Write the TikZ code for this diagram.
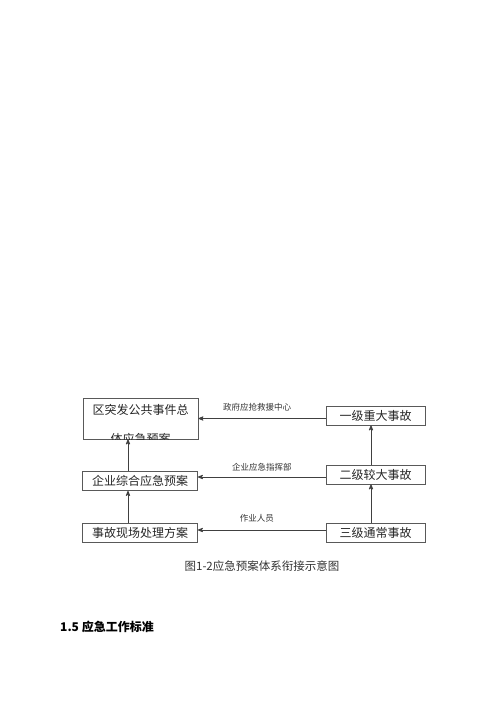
\documentclass[tikz,border=0pt]{standalone}
\usepackage{fontspec}
\setmainfont{Noto Sans CJK SC}
\usetikzlibrary{positioning, arrows}
\tikzset{
	>=stealth',
	box/.style={draw=black!65, line width=0.8pt, minimum width=115pt, minimum height=19pt,
		inner sep=0pt, text=black!85, font=\fontsize{12}{14}\selectfont},
	rbox/.style={box, minimum width=99pt},
	link/.style={->, draw=black!75, line width=0.8pt},
	tag/.style={inner sep=1pt, text=black!80, font=\fontsize{8.5}{10}\selectfont}}

\begin{document}
\begin{tikzpicture}[x=1pt, y=-1pt]
		\useasboundingbox[fill=white] (0,0) rectangle (500,707);

		% left column
		\node[box, minimum height=41pt] (A) at (140.5,418.5) {};
		\node[box, draw=none] (A1) at (140.5,410) {区突发公共事件总};
		\begin{scope}
			\clip (A.north west) rectangle (A.south east);
			\node[box, draw=none] (A2) at (140.5,438.5) {体应急预案};
		\end{scope}
		\node[box] (B) at (140,481) {企业综合应急预案};
		\node[box] (C) at (140,532.5) {事故现场处理方案};

		% right column
		\node[rbox] (D) at (375.5,415.5) {一级重大事故};
		\node[rbox] (E) at (375.5,474.5) {二级较大事故};
		\node[rbox] (F) at (375.5,532.5) {三级通常事故};

		\draw[link] (A.east -| D.west) -- node[tag, above=6pt, xshift=-5pt]{政府应抢救援中心} (A.east);
		\draw[link] ([yshift=-2.5pt]E.west) -- node[tag, above=4pt]{企业应急指挥部} ([yshift=-2.5pt]E.west -| B.east);
		\draw[link] ([yshift=2.5pt]F.west) -- node[tag, above=6pt, xshift=-5pt]{作业人员} ([yshift=2.5pt]F.west -| C.east);

		\draw[link] ([xshift=-12pt]B.north) -- ([xshift=-12pt]B.north |- A.south);
		\draw[link] ([xshift=-12pt]C.north) -- ([xshift=-12pt]C.north |- B.south);
		\draw[link] ([xshift=-4.5pt]E.north) -- ([xshift=-4.5pt]E.north |- D.south);
		\draw[link] ([xshift=-4.5pt]F.north) -- ([xshift=-4.5pt]F.north |- E.south);

		\node[text=black!80, font=\fontsize{11.5}{13}\selectfont] (cap) at (262,566) {图1-2应急预案体系衔接示意图};
		\node[anchor=west, inner sep=0pt, font=\bfseries\fontsize{12}{14}\selectfont] (sec) at (60,627) {1.5 应急工作标准};
	\end{tikzpicture}
\end{document}
